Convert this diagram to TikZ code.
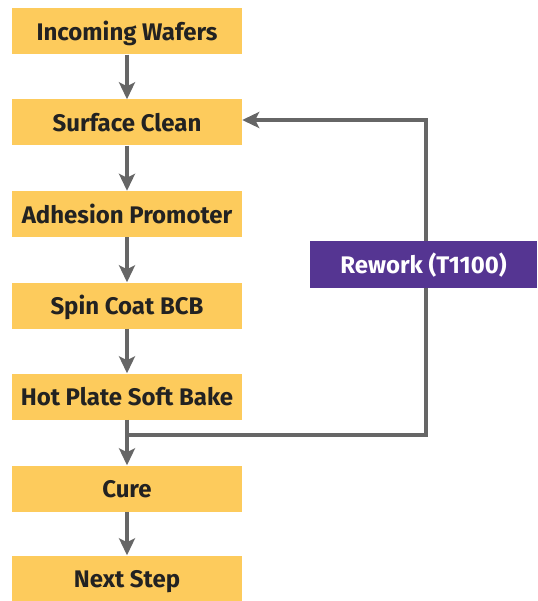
\documentclass[tikz,border=0pt]{standalone}
\usepackage{fontspec}
\setmainfont{Fira Sans}
\usetikzlibrary{arrows.meta}
\definecolor{boxy}{HTML}{FDCB5C}
\definecolor{purp}{HTML}{553592}
\definecolor{ln}{HTML}{666666}
\definecolor{txt}{HTML}{222222}
\begin{document}
\begin{tikzpicture}[x=1pt,y=-1pt,
  stepbox/.style={fill=boxy,minimum width=230pt,minimum height=46pt,inner sep=0pt,text height=18.5pt,text depth=0pt,font=\fontsize{24}{26}\selectfont\bfseries,text=txt},
  rwbox/.style={fill=purp,minimum width=227pt,minimum height=47pt,inner sep=0pt,text height=18.5pt,text depth=0pt,font=\fontsize{24}{26}\selectfont\bfseries,text=white},
  conn/.style={draw=ln,line width=3.2pt,-{Stealth[length=17pt,width=16pt,inset=4pt]}},
  plain/.style={draw=ln,line width=3.2pt}]
\useasboundingbox (0,0) rectangle (537,601);
\node[stepbox] (a) at (127,31.5) {Incoming Wafers};
\node[stepbox] (b) at (127,122.5) {Surface Clean};
\node[stepbox] (c) at (127,214) {Adhesion Promoter};
\node[stepbox] (d) at (127,305.5) {Spin Coat BCB};
\node[stepbox] (e) at (127,396.5) {Hot Plate Soft Bake};
\node[stepbox] (f) at (127,488.5) {Cure};
\node[stepbox] (g) at (127,578.5) {Next Step};
\node[rwbox] (r) at (423.5,264.5) {Rework (T1100)};
\coordinate (m) at (127,435);
\draw[conn] (a) -- (b);
\draw[conn] (b) -- (c);
\draw[conn] (c) -- (d);
\draw[conn] (d) -- (e);
\draw[conn] (e) -- (f);
\draw[conn] (f) -- (g);
\draw[plain] (m) -- (426,435) -- (426,288);
\draw[conn] (426,241) -- (426,120) -- (b.east |- 0,120);
\end{tikzpicture}
\end{document}
